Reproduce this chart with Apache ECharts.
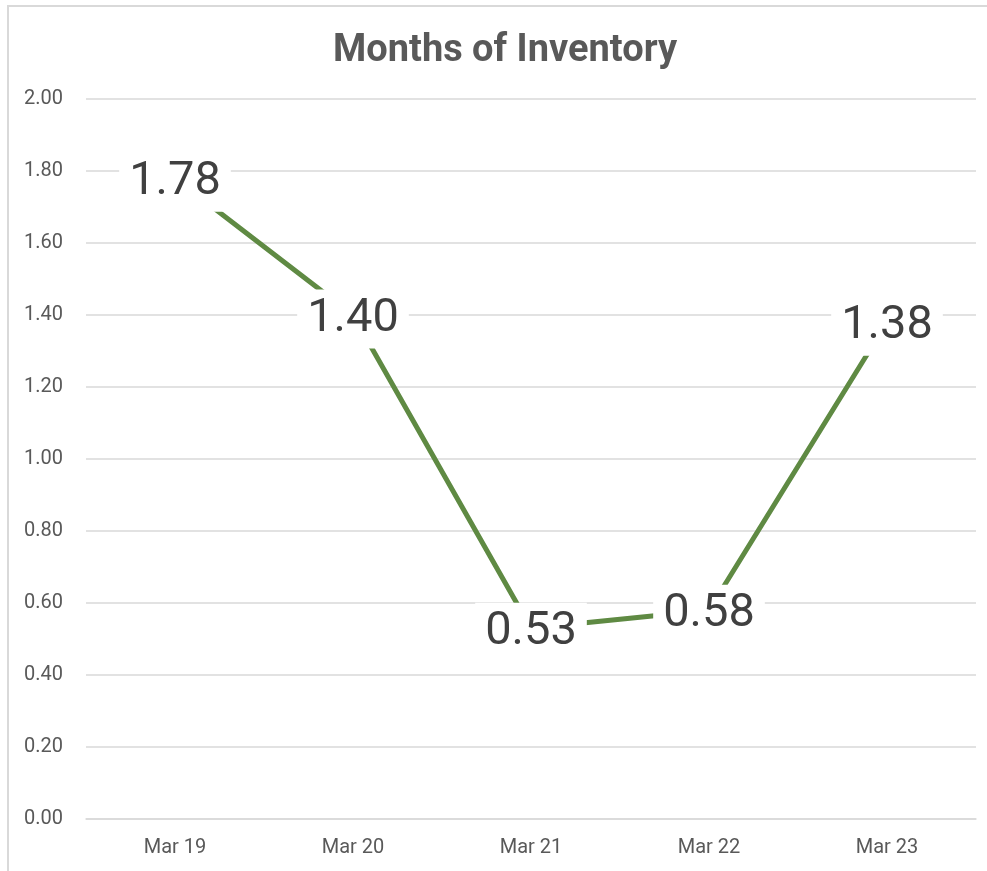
<!DOCTYPE html>
<html>
<head>
<meta charset="utf-8">
<script src="https://cdn.jsdelivr.net/npm/echarts@6/dist/echarts.min.js"></script>
<style>
  html, body { margin: 0; padding: 0; background: #fff; }
  #chart { width: 987px; height: 871px; }
</style>
</head>
<body>
<div id="chart"></div>
<script>
var categories = ['Mar 19', 'Mar 20', 'Mar 21', 'Mar 22', 'Mar 23'];
var inventory = [1.78, 1.40, 0.53, 0.58, 1.38];

var chart = echarts.init(document.getElementById('chart'));

var option = {
  backgroundColor: '#fff',
  animation: false,
  textStyle: { fontFamily: 'Roboto' },
  title: {
    text: 'Months of Inventory',
    left: 328,
    top: 27,
    textStyle: {
      fontFamily: 'Roboto',
      fontSize: 38,
      fontWeight: 'bold',
      color: '#595959'
    }
  },
  graphic: [
    {
      type: 'rect',
      shape: { x: 8, y: 6, width: 1000, height: 900 },
      style: { fill: 'none', stroke: '#d9d9d9', lineWidth: 2 },
      silent: true
    }
  ],
  grid: {
    left: 86,
    right: 11,
    top: 99,
    bottom: 52
  },
  xAxis: {
    type: 'category',
    data: categories,
    boundaryGap: true,
    axisLine: { lineStyle: { color: '#d9d9d9', width: 1.5 } },
    axisTick: { show: false },
    axisLabel: {
      color: '#595959',
      fontSize: 20,
      margin: 19
    }
  },
  yAxis: {
    type: 'value',
    min: 0,
    max: 2,
    interval: 0.2,
    axisLine: { show: false },
    axisTick: { show: false },
    splitLine: { lineStyle: { color: '#d9d9d9', width: 1.5 } },
    axisLabel: {
      color: '#595959',
      fontSize: 20,
      margin: 23,
      formatter: function (v) { return v.toFixed(2); }
    }
  },
  series: [
    {
      type: 'line',
      data: inventory,
      showSymbol: true,
      symbol: 'circle',
      symbolSize: 1,
      itemStyle: { color: 'rgba(0,0,0,0)' },
      lineStyle: { color: '#5f8a43', width: 5 },
      label: {
        show: true,
        position: 'inside',
        offset: [0, 4],
        fontSize: 47,
        color: '#404040',
        backgroundColor: '#fff',
        padding: [6, 10],
        formatter: function (p) { return p.value.toFixed(2); }
      }
    }
  ]
};

chart.setOption(option);
</script>
</body>
</html>
